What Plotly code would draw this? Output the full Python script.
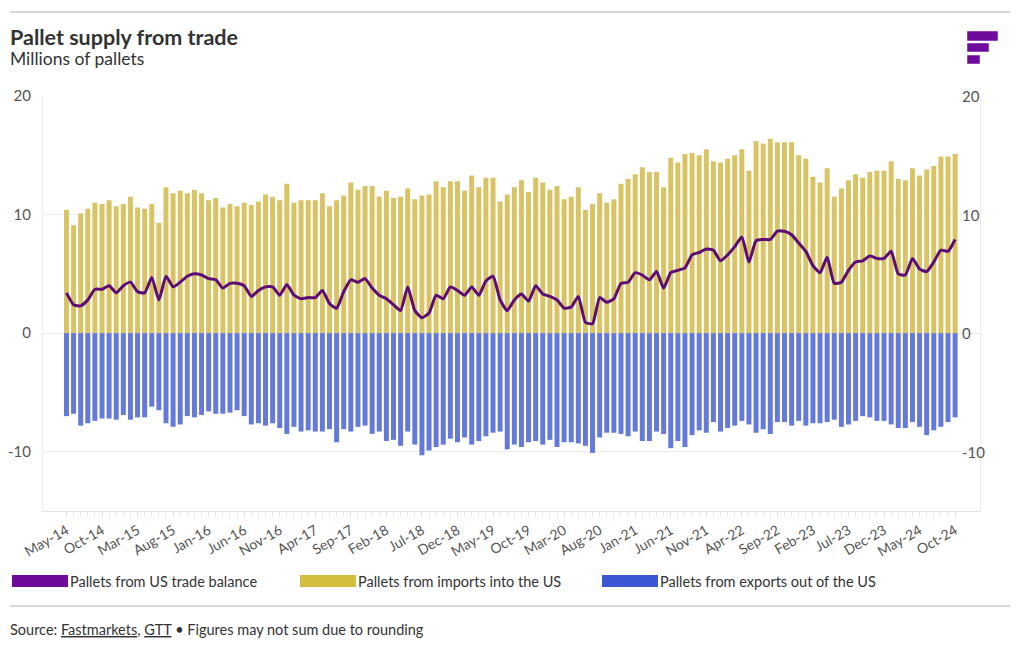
import plotly.graph_objects as go

# ---------------- data ----------------
tick_labels = ["May-14", "Oct-14", "Mar-15", "Aug-15", "Jan-16", "Jun-16", "Nov-16", "Apr-17",
               "Sep-17", "Feb-18", "Jul-18", "Dec-18", "May-19", "Oct-19", "Mar-20", "Aug-20",
               "Jan-21", "Jun-21", "Nov-21", "Apr-22", "Sep-22", "Feb-23", "Jul-23", "Dec-23",
               "May-24", "Oct-24"]

imports = [
    10.4, 9.1, 10.1, 10.5, 11.0, 10.9, 11.2, 10.7, 10.9, 11.5, 10.6, 10.5, 10.9, 9.3, 12.3, 11.8,
    12.0, 11.8, 12.1, 11.8, 11.2, 11.4, 10.6, 10.9, 10.7,
    11.0, 10.8, 11.1, 11.7, 11.5, 11.2, 12.6, 11.0, 11.2, 11.2, 11.2, 11.8, 10.7, 11.2, 11.6, 12.7,
    12.1, 12.4, 12.4, 11.5, 12.0, 11.4, 11.5, 12.2, 11.3, 11.6,
    11.7, 12.8, 12.3, 12.8, 12.8, 12.0, 13.3, 12.3, 13.1, 13.1, 11.1, 11.7, 12.3, 12.9, 11.9, 13.1,
    12.7, 12.1, 12.4, 11.3, 11.5, 12.3, 10.4, 10.9, 11.8,
    11.0, 11.3, 12.6, 13.0, 13.4, 14.0, 13.6, 13.6, 12.3, 14.8, 14.4, 15.1, 15.2, 15.0, 15.5, 14.5,
    14.4, 14.7, 15.0, 15.5, 13.7, 16.2, 16.0, 16.4, 16.1,
    16.1, 16.1, 15.0, 14.7, 13.2, 12.7, 13.9, 11.5, 12.2, 12.9, 13.4, 13.1, 13.6, 13.7, 13.7, 14.5,
    13.0, 12.9, 13.9, 13.3, 13.8, 14.1, 14.9, 14.9, 15.1,
]

exports = [
    -7.0, -6.8, -7.8, -7.6, -7.4, -7.2, -7.2, -7.3, -6.9, -7.3, -7.1, -7.1, -6.2, -6.5, -7.6, -7.9,
    -7.7, -7.0, -7.1, -6.9, -6.6, -6.8, -6.8, -6.7, -6.5,
    -7.0, -7.7, -7.6, -7.8, -7.6, -8.0, -8.5, -7.9, -8.3, -8.2, -8.3, -8.3, -8.1, -9.2, -8.1, -8.3,
    -7.9, -7.8, -8.5, -8.3, -9.1, -9.0, -9.5, -8.3, -9.4, -10.3,
    -9.9, -9.6, -9.4, -8.9, -9.2, -8.8, -9.4, -9.1, -8.7, -8.4, -8.3, -9.8, -9.4, -9.6, -9.2, -9.1,
    -9.4, -9.0, -9.6, -9.2, -9.2, -9.3, -9.5, -10.1, -8.8,
    -8.4, -8.4, -8.5, -8.7, -8.3, -9.1, -9.1, -8.3, -8.5, -9.7, -9.1, -9.6, -8.6, -8.2, -8.4, -7.5,
    -8.3, -8.0, -7.8, -7.4, -7.7, -8.4, -8.1, -8.5, -7.5,
    -7.5, -7.8, -7.4, -7.8, -7.6, -7.6, -7.5, -7.3, -7.9, -7.7, -7.4, -7.0, -7.1, -7.4, -7.4, -7.7,
    -8.0, -8.0, -7.5, -7.9, -8.6, -8.2, -7.9, -7.5, -7.1,
]

balance = [
    3.4, 2.4, 2.3, 2.8, 3.7, 3.7, 4.0, 3.4, 4.0, 4.3, 3.5, 3.4, 4.7, 2.8, 4.8, 3.9,
    4.3, 4.8, 5.0, 4.9, 4.6, 4.5, 3.8, 4.2, 4.2,
    4.0, 3.1, 3.6, 3.9, 3.9, 3.2, 4.1, 3.2, 2.9, 3.0, 3.0, 3.6, 2.5, 2.1, 3.5, 4.5,
    4.3, 4.6, 3.8, 3.2, 2.9, 2.4, 1.9, 3.9, 1.9, 1.3,
    1.7, 3.2, 2.9, 3.9, 3.6, 3.2, 3.9, 3.2, 4.4, 4.8, 2.8, 1.9, 2.8, 3.3, 2.7, 4.0,
    3.3, 3.1, 2.8, 2.1, 2.2, 3.1, 0.9, 0.8, 3.0,
    2.6, 2.9, 4.2, 4.3, 5.1, 4.9, 4.5, 5.2, 3.8, 5.1, 5.3, 5.5, 6.6, 6.8, 7.1, 7.0,
    6.1, 6.6, 7.3, 8.1, 6.0, 7.8, 7.9, 7.9, 8.6,
    8.6, 8.3, 7.6, 6.9, 5.7, 5.1, 6.4, 4.2, 4.3, 5.3, 6.0, 6.1, 6.5, 6.3, 6.3, 6.9,
    5.0, 4.9, 6.3, 5.4, 5.2, 6.0, 7.0, 6.9, 7.9,
]

y_ticks = [-10, 0, 10, 20]
y_tick_labels = ["-10", "0", "10", "20"]

n = len(imports)
x_idx = list(range(n))
tick_idx = list(range(0, n, 5))

# ---------------- styling ----------------
OFF = 8  # page body margin in the browser
W, H = 1020, 650
PLOT_L, PLOT_R, PLOT_T, PLOT_B = 43 - OFF, 980 - OFF, 96 - OFF, 511 - OFF
FONT = "Lato, 'Open Sans', sans-serif"
YELLOW_BAR = "#D9C465"
BLUE_BAR = "#6479D8"
LINE_PURPLE = "#5C0C74"
LEG_PURPLE = "#6E0A9C"
LEG_YELLOW = "#D3BD3C"
LEG_BLUE = "#3A57D4"


def px(x):
    """page pixel x -> paper coordinate"""
    return (x - OFF - PLOT_L) / (PLOT_R - PLOT_L)


def py(y):
    """page pixel y -> paper coordinate"""
    return (PLOT_B - (y - OFF)) / (PLOT_B - PLOT_T)


fig = go.Figure()
fig.add_trace(go.Bar(x=x_idx, y=imports, name="Pallets from imports into the US",
                     marker=dict(color=YELLOW_BAR, line=dict(width=0))))
fig.add_trace(go.Bar(x=x_idx, y=exports, name="Pallets from exports out of the US",
                     marker=dict(color=BLUE_BAR, line=dict(width=0))))
fig.add_trace(go.Scatter(x=x_idx, y=balance, name="Pallets from US trade balance", mode="lines",
                         line=dict(color=LINE_PURPLE, width=3, shape="spline", smoothing=0.5)))

shapes = []
shapes.append(dict(type="line", xref="paper", yref="paper", x0=px(10), x1=px(1010),
                   y0=py(12), y1=py(12), line=dict(color="#d6d6d6", width=2)))
shapes.append(dict(type="line", xref="paper", yref="paper", x0=px(10), x1=px(1010),
                   y0=py(606), y1=py(606), line=dict(color="#d6d6d6", width=2)))
for (x0, x1, y0, y1) in [(968, 997, 32, 40), (968, 988, 44, 51), (968, 979, 56, 63)]:
    shapes.append(dict(type="rect", xref="paper", yref="paper", x0=px(x0), x1=px(x1),
                       y0=py(y1), y1=py(y0), fillcolor=LEG_PURPLE,
                       line=dict(color=LEG_PURPLE, width=1.5)))

legend_items = [(12, LEG_PURPLE, "Pallets from US trade balance"),
                (300, LEG_YELLOW, "Pallets from imports into the US"),
                (602, LEG_BLUE, "Pallets from exports out of the US")]
annotations = []
for (lx, col, txt) in legend_items:
    shapes.append(dict(type="rect", xref="paper", yref="paper", x0=px(lx), x1=px(lx + 56),
                       y0=py(587), y1=py(575), fillcolor=col, line=dict(width=0)))
    annotations.append(dict(text=txt, xref="paper", yref="paper", x=px(lx + 56), y=py(581),
                            xanchor="left", yanchor="middle", showarrow=False,
                            font=dict(family=FONT, size=14.5, color="#333333")))

# right-hand value labels, placed through the y scale
for v, lab in zip(y_ticks, y_tick_labels):
    annotations.append(dict(text=lab, xref="paper", yref="y", x=px(960), y=v,
                            xanchor="left", yanchor="middle", showarrow=False,
                            font=dict(family=FONT, size=15, color="#555555")))

annotations.append(dict(text="<b>Pallet supply from trade</b>", xref="paper", yref="paper",
                        x=px(8), y=py(37), xanchor="left", yanchor="middle", showarrow=False,
                        font=dict(family=FONT, size=21.5, color="#333333")))
annotations.append(dict(text="Millions of pallets", xref="paper", yref="paper",
                        x=px(8), y=py(58), xanchor="left", yanchor="middle", showarrow=False,
                        font=dict(family=FONT, size=17.5, color="#333333")))
annotations.append(dict(text="Source: <u>Fastmarkets</u>, <u>GTT</u> • Figures may not sum due to rounding",
                        xref="paper", yref="paper", x=px(8), y=py(629), xanchor="left",
                        yanchor="middle", showarrow=False,
                        font=dict(family=FONT, size=14.5, color="#333333")))

fig.update_layout(
    width=W, height=H,
    margin=dict(l=PLOT_L, r=W - PLOT_R, t=PLOT_T, b=H - PLOT_B, autoexpand=False),
    paper_bgcolor="white", plot_bgcolor="white",
    barmode="relative", bargap=0.3,
    showlegend=False,
    font=dict(family=FONT, color="#444444"),
    shapes=shapes, annotations=annotations,
    xaxis=dict(range=[-3.3, 128.5], tickmode="array", tickvals=tick_idx, ticktext=tick_labels,
               tickangle=-30, tickfont=dict(size=14, color="#555555"), showgrid=False,
               zeroline=False, showline=True, linecolor="#e3e3e3", linewidth=1,
               ticks="outside", ticklen=5, tickcolor="#e3e3e3",
               minor=dict(tickvals=x_idx, ticks="outside", ticklen=5, tickcolor="#e9e9e9")),
    yaxis=dict(range=[-15, 20], tickmode="array", tickvals=y_ticks, ticktext=y_tick_labels,
               showgrid=True, gridcolor="#ececec", gridwidth=1, zeroline=False,
               showline=True, mirror=True, linecolor="#ececec",
               tickfont=dict(size=15, color="#555555"), ticklabelstandoff=8),
)

fig.write_html("out.html")
